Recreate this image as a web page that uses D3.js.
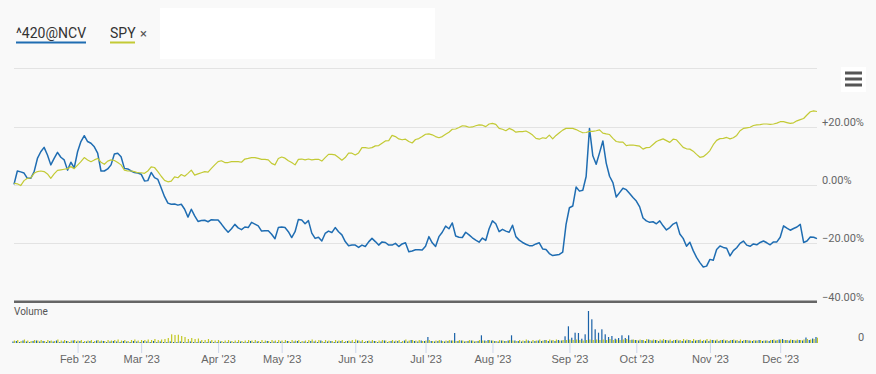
<!DOCTYPE html>
<meta charset="utf-8">

<style type="text/css">
  body {
    margin: 0;
    background: #f9f9f9;
    font-family: Roboto, Arial, sans-serif;
  }

  .grid line {
    stroke: #e3e3e3;
  }

  .xaxis path { display: none; }
  .xaxis line { stroke: #ccd6eb; }
  .xaxis text { fill: #666; font-size: 11px; }

  .ylab {
    fill: #666;
    font-size: 11px;
  }

  .legend text {
    fill: #333;
    font-size: 14px;
  }
</style>

<body>
</body>

<script src="https://cdn.jsdelivr.net/npm/d3@7"></script>

<script>

// trading days shown on the chart
var firstDay = "2023-01-04",
    lastDay = "2023-12-18";
var holidays = ["2023-01-16", "2023-02-20", "2023-04-07", "2023-05-29",
                "2023-06-19", "2023-07-04", "2023-09-04", "2023-11-23"];

var monthLabels = ["Feb '23", "Mar '23", "Apr '23", "May '23", "Jun '23", "Jul '23",
                   "Aug '23", "Sep '23", "Oct '23", "Nov '23", "Dec '23"];

var pctTicks = [40, 20, 0, -20, -40];

var seriesNames = ["^420@NCV", "SPY"];

// % change, one value per trading day
var ncv = [
  0.2, 4.8, 4.5, 4.1, 2.3, 2.3, 4.5, 9.1, 11.4, 12.9,
  10.3, 6.9, 9.1, 11.2, 9.5, 8.6, 5.1, 7.8, 5.9, 11.4,
  14.9, 16.9, 14.9, 14.3, 13.1, 10.9, 4.8, 4.8, 5.5, 6.9,
  10.6, 10.9, 9.7, 5.7, 5.5, 4.8, 4.3, 4.1, 3.7, 1.4,
  1.5, 4.3, 2.5, 1.9, -1.0, -4.0, -6.2, -6.6, -6.5, -6.9,
  -6.6, -8.3, -11.0, -8.3, -10.6, -12.5, -12.2, -12.1, -12.6, -11.9,
  -12.0, -12.0, -13.4, -14.9, -16.2, -15.0, -13.5, -14.7, -15.3, -14.4,
  -14.6, -12.8, -13.4, -14.0, -15.8, -15.7, -15.7, -16.9, -18.4, -14.6,
  -14.4, -14.6, -16.0, -18.0, -16.0, -11.8, -12.0, -13.3, -12.2, -16.5,
  -18.3, -17.9, -19.2, -16.6, -15.8, -16.3, -14.6, -16.0, -17.1, -19.4,
  -20.8, -20.6, -20.6, -21.4, -20.6, -21.1, -19.5, -18.3, -19.4, -20.6,
  -19.5, -19.7, -20.6, -20.6, -20.0, -21.1, -20.2, -19.8, -22.9, -22.6,
  -22.2, -22.2, -22.3, -21.0, -17.7, -19.8, -21.1, -17.7, -16.2, -14.1,
  -15.0, -13.0, -17.5, -17.9, -18.0, -16.2, -17.1, -18.1, -18.9, -19.6,
  -18.2, -19.0, -15.0, -12.3, -13.3, -16.0, -15.2, -15.8, -16.2, -13.8,
  -17.7, -18.9, -19.7, -20.3, -20.8, -20.8, -20.2, -19.8, -21.9, -22.1,
  -23.5, -24.2, -24.0, -23.8, -23.0, -13.5, -7.8, -7.2, -0.7, -2.1,
  -1.8, 2.9, 19.4, 10.0, 7.1, 11.0, 15.1, 7.5, 3.0, 0.8,
  -4.1, -2.6, -1.1, -1.6, -2.9, -4.3, -5.5, -7.5, -11.3, -12.3,
  -12.8, -12.6, -13.3, -12.3, -14.0, -15.4, -14.6, -13.4, -12.8, -16.8,
  -18.3, -21.0, -19.6, -22.5, -24.8, -26.6, -28.1, -27.8, -25.5, -25.8,
  -22.1, -20.9, -21.4, -21.7, -24.3, -22.5, -21.5, -20.0, -19.2, -20.6,
  -21.0, -20.2, -20.5, -19.7, -19.2, -19.8, -20.5, -19.5, -19.5, -17.9,
  -14.0, -14.8, -15.5, -14.9, -14.4, -13.5, -19.7, -19.2, -17.8, -17.9,
  -18.4
];

var spy = [
  0.6, 0.4, -0.2, 1.5, 2.3, 2.4, 4.0, 4.6, 4.8, 4.6,
  3.8, 2.3, 3.8, 5.0, 5.2, 5.4, 5.6, 6.3, 5.6, 6.8,
  8.0, 9.4, 8.6, 8.0, 8.6, 9.1, 7.8, 7.1, 8.2, 8.6,
  8.4, 7.7, 6.9, 5.1, 4.8, 4.8, 4.6, 4.2, 4.2, 4.0,
  4.8, 6.2, 6.0, 4.6, 3.0, 1.6, 1.1, 1.3, 2.8, 2.5,
  3.6, 3.0, 4.0, 5.1, 3.4, 3.8, 4.2, 4.6, 4.4, 5.7,
  6.9, 8.0, 8.3, 7.7, 7.7, 8.0, 8.0, 8.0, 7.8, 8.9,
  9.1, 9.4, 9.4, 9.1, 8.8, 8.8, 8.6, 7.4, 6.9, 9.1,
  9.6, 9.2, 8.3, 7.7, 6.9, 8.8, 8.9, 8.6, 8.9, 8.6,
  8.8, 8.8, 8.2, 9.4, 10.5, 10.5, 10.3, 9.4, 8.5, 9.4,
  10.9, 10.9, 10.3, 11.0, 12.8, 12.8, 12.6, 12.8, 13.4, 13.5,
  14.3, 15.1, 15.2, 17.0, 16.6, 15.8, 15.5, 15.7, 14.9, 14.4,
  15.6, 15.9, 16.6, 17.4, 17.5, 17.2, 16.6, 16.2, 16.6, 17.4,
  18.1, 19.1, 19.2, 19.7, 20.3, 20.2, 19.8, 19.9, 20.3, 20.6,
  20.5, 20.0, 20.9, 21.1, 20.8, 19.4, 19.1, 18.6, 19.4, 18.9,
  18.1, 18.3, 18.3, 18.5, 17.9, 17.1, 16.0, 15.7, 16.2, 16.0,
  17.1, 15.8, 17.0, 17.9, 18.8, 19.4, 19.4, 19.4, 19.0, 18.4,
  17.9, 18.0, 18.4, 18.4, 18.6, 18.9, 17.8, 17.5, 17.3, 16.0,
  14.9, 14.7, 14.7, 13.5, 13.7, 13.7, 13.5, 13.3, 12.3, 12.8,
  12.9, 13.9, 14.9, 15.4, 15.8, 15.2, 14.6, 15.7, 15.5, 14.2,
  12.9, 12.4, 12.3, 11.6, 10.5, 9.5, 9.7, 10.6, 11.8, 13.8,
  15.3, 15.9, 16.0, 16.3, 15.8, 16.2, 17.0, 18.6, 19.4, 19.6,
  19.8, 20.4, 20.6, 20.7, 20.9, 20.9, 20.8, 20.9, 21.2, 21.7,
  21.7, 21.4, 21.1, 21.3, 22.0, 22.4, 22.8, 24.0, 25.1, 25.4,
  25.2
];

// volume, relative units
var ncvVol = [
  1.5, 2, 1, 2.5, 1.5, 1, 2, 2.5, 1.5, 2, 1, 2, 1.5, 2.5, 1, 1.5, 2, 1, 2.5, 1.5,
  2, 1, 1.5, 2, 1, 2.5, 1.5, 2, 1, 1.5, 2, 1.5, 1, 2, 1.5, 1, 2, 1.5, 1, 2,
  1.5, 1, 2, 1, 1.5, 1, 1, 1.5, 1, 1, 1.5, 1, 1, 1.5, 1, 1, 1.5, 1, 1, 1.5,
  1, 1, 1.5, 1, 1, 1.5, 1, 1, 1.5, 1, 1, 2, 1, 1.5, 1, 1, 2, 1, 1.5, 1,
  1.5, 1, 2, 1, 1.5, 2, 1, 1.5, 1, 2, 1.5, 1, 2.5, 1, 1.5, 2, 1, 1.5, 2, 1,
  2, 1.5, 1, 2.5, 1.5, 1, 2, 1.5, 2, 1, 1.5, 2.5, 1, 2, 1.5, 2, 1, 2.5, 1.5, 3,
  2, 1.5, 2.5, 2, 6, 2, 1.5, 2, 2.5, 1.5, 2, 2.5, 10, 2, 2.5, 1.5, 2, 2.5, 1.5, 2,
  7.7, 2.5, 3, 2.5, 2, 1.5, 2.5, 2, 2.5, 7.7, 2.5, 2, 1.5, 2, 2.5, 1.5, 2, 2.5, 2, 3,
  2, 2.5, 2, 3, 2.5, 6.7, 16.7, 5.3, 10.3, 10, 4.3, 8.7, 32, 23.7, 13.7, 10.3, 13.7, 8.7, 6, 7,
  4.3, 5, 7.7, 5, 7.7, 3.3, 3, 2.5, 3, 2, 3.5, 2.5, 3, 2, 2.5, 3, 2.5, 2, 3, 2.5,
  2, 2.5, 3, 2, 2.5, 3, 2, 2.5, 2, 3, 2.5, 2, 3, 2.5, 2, 3, 2.5, 2, 2, 3,
  2.5, 2, 2.5, 3, 2, 2.5, 2, 3, 2.5, 3.5, 4, 3, 2.5, 3, 2.5, 3, 2.5, 5.5, 3, 4.5,
  6
];

var spyVol = [
  2.5, 3, 2, 3.5, 2.5, 2, 3, 2.5, 3, 2, 3, 2.5, 2, 3.5, 2.5, 3, 2, 2.5, 3, 2.5,
  3, 2, 2.5, 3, 2, 3, 2.5, 2, 3, 2.5, 3, 3.5, 2.5, 3, 2, 3, 3.5, 2.5, 3, 3,
  3.5, 3, 4, 3, 3.5, 4, 5, 8.7, 8, 8.3, 7, 6, 4, 5, 4, 4.5, 3, 3, 4, 3,
  2.5, 3, 2, 2.5, 3, 2, 2.5, 3, 2, 2.5, 3, 2.5, 3, 2, 3, 2.5, 2, 3, 2.5, 3,
  2.5, 3, 2, 3, 2.5, 3, 2, 2.5, 3, 3.5, 2.5, 3, 2, 3, 2.5, 2, 3, 2.5, 3, 2,
  2.5, 3, 3.5, 2.5, 3, 2, 2.5, 3, 2, 2.5, 3, 2.5, 2, 3, 2.5, 3, 2, 3.5, 2.5, 3,
  2.5, 3, 2, 2.5, 3, 2, 2.5, 3, 2, 2.5, 3, 2.5, 2, 3, 2.5, 2, 3, 2.5, 2, 3,
  2.5, 2, 3, 2.5, 2, 3, 2.5, 2, 3, 2.5, 2, 3, 2.5, 3.5, 2, 3, 2.5, 3.5, 2.5, 3,
  3.5, 3, 3.5, 2.5, 3, 3, 3.5, 3, 3.5, 3, 2.5, 3, 3.5, 3, 3.5, 3, 3.5, 3, 4, 3,
  3.5, 3, 3.5, 4, 3, 3.5, 3, 3.5, 3, 4, 3, 3.5, 3, 3.5, 4, 3, 3.5, 3, 3.5, 3,
  4, 3.5, 3, 4, 3, 3.5, 3, 4, 3.5, 3, 3.5, 3, 3.5, 3, 3, 3.5, 3, 3.5, 3, 3,
  2.5, 3, 2.5, 3, 2.5, 2.5, 3, 3.5, 3, 3.5, 3, 3, 3.5, 3, 3.5, 3, 3.5, 4, 3.5, 4,
  5.3
];

var W = 876, H = 374;
var blue = "#1f6db2", green = "#c3ca35";

var parse = d3.timeParse("%Y-%m-%d"),
    fmt = d3.timeFormat("%Y-%m-%d");

var days = d3.timeDay.range(parse(firstDay), d3.timeDay.offset(parse(lastDay), 1))
  .filter(function(d) {
    return d.getDay() != 0 && d.getDay() != 6 && holidays.indexOf(fmt(d)) < 0;
  })
  .map(fmt);

// first trading day of each month Feb..Dec
var monthStarts = days.filter(function(d, i) {
  return i > 0 && d.slice(5, 7) != days[i - 1].slice(5, 7);
});

var x = d3.scalePoint()
  .domain(days)
  .range([14, 817]);

var y = d3.scaleLinear()
  .domain([-40, 40])
  .range([301.7, 68.3]);

var yvol = d3.scaleLinear()
  .domain([0, d3.max(ncvVol)])
  .range([343, 311]);

var svg = d3.select("body").append("svg")
  .attr("width", W)
  .attr("height", H);

svg.append("rect")
  .attr("width", W)
  .attr("height", H)
  .attr("fill", "#f9f9f9");

// header: legend + empty input box
svg.append("rect")
  .attr("x", 160).attr("y", 8)
  .attr("width", 275).attr("height", 51)
  .attr("fill", "#fff");

var legend = svg.append("g").attr("class", "legend");
legend.append("text").attr("x", 16).attr("y", 38).text(seriesNames[0]);
legend.append("rect").attr("x", 16).attr("y", 41.5).attr("width", 70).attr("height", 2).attr("fill", blue);
legend.append("text").attr("x", 110).attr("y", 38).text(seriesNames[1]);
legend.append("rect").attr("x", 110).attr("y", 41.5).attr("width", 25).attr("height", 2).attr("fill", green);
legend.append("text").attr("x", 140).attr("y", 38)
  .style("font-size", "13px").style("fill", "#555").text("\u00d7");

// gridlines
svg.append("g").attr("class", "grid")
  .selectAll("line")
  .data(pctTicks.filter(function(d) { return d > -40; }))
  .enter().append("line")
  .attr("x1", 14).attr("x2", 817)
  .attr("y1", function(d) { return Math.round(y(d)) + 0.5; })
  .attr("y2", function(d) { return Math.round(y(d)) + 0.5; });

svg.append("line")
  .attr("x1", 14).attr("x2", 817)
  .attr("y1", y(-40)).attr("y2", y(-40))
  .attr("stroke", "#666")
  .attr("stroke-width", 2.5);

// right % labels (no label on top line)
svg.selectAll(".ylab")
  .data(pctTicks.filter(function(d) { return d < 40; }))
  .enter().append("text")
  .attr("class", "ylab")
  .attr("x", 822)
  .attr("y", function(d) { return y(d) - 5; })
  .attr("dy", "0.35em")
  .text(function(d) { return (d > 0 ? "+" : "") + d3.format(".2f")(d) + "%"; });

// menu icon
var menu = svg.append("g");
menu.append("rect").attr("x", 841).attr("y", 67).attr("width", 25).attr("height", 25).attr("fill", "#fff");
menu.selectAll(".bar")
  .data([73, 79, 85])
  .enter().append("rect")
  .attr("x", 845).attr("y", function(d) { return d - 1.5; })
  .attr("width", 17).attr("height", 3)
  .attr("fill", "#555");

// lines
var line = d3.line()
  .x(function(d, i) { return x(days[i]); })
  .y(function(d) { return y(d); });

svg.append("path")
  .attr("d", line(ncv))
  .attr("fill", "none")
  .attr("stroke", blue)
  .attr("stroke-width", 1.5)
  .attr("stroke-linejoin", "round");

svg.append("path")
  .attr("d", line(spy))
  .attr("fill", "none")
  .attr("stroke", green)
  .attr("stroke-width", 1.2)
  .attr("stroke-linejoin", "round");

// volume panel
svg.append("text")
  .attr("x", 14).attr("y", 315)
  .style("font-size", "10px").style("fill", "#555")
  .text("Volume");

svg.append("text")
  .attr("x", 858).attr("y", 337)
  .attr("dy", "0.35em")
  .attr("class", "ylab")
  .text("0");

svg.append("g")
  .selectAll("rect")
  .data(ncvVol)
  .enter().append("rect")
  .attr("x", function(d, i) { return x(days[i]) - 1.6; })
  .attr("y", function(d) { return yvol(d); })
  .attr("width", 1.2)
  .attr("height", function(d) { return yvol(0) - yvol(d); })
  .attr("fill", "#1a62a8");

svg.append("g")
  .selectAll("rect")
  .data(spyVol)
  .enter().append("rect")
  .attr("x", function(d, i) { return x(days[i]) - 0.2; })
  .attr("y", function(d) { return yvol(d); })
  .attr("width", 1.2)
  .attr("height", function(d) { return yvol(0) - yvol(d); })
  .attr("fill", "#c2c824");

// month axis
var xaxis = d3.axisBottom(x)
  .tickValues(monthStarts)
  .tickFormat(function(d, i) { return monthLabels[i]; })
  .tickSize(10)
  .tickPadding(2);

svg.append("g")
  .attr("class", "xaxis")
  .attr("transform", "translate(0,343)")
  .call(xaxis);

</script>
